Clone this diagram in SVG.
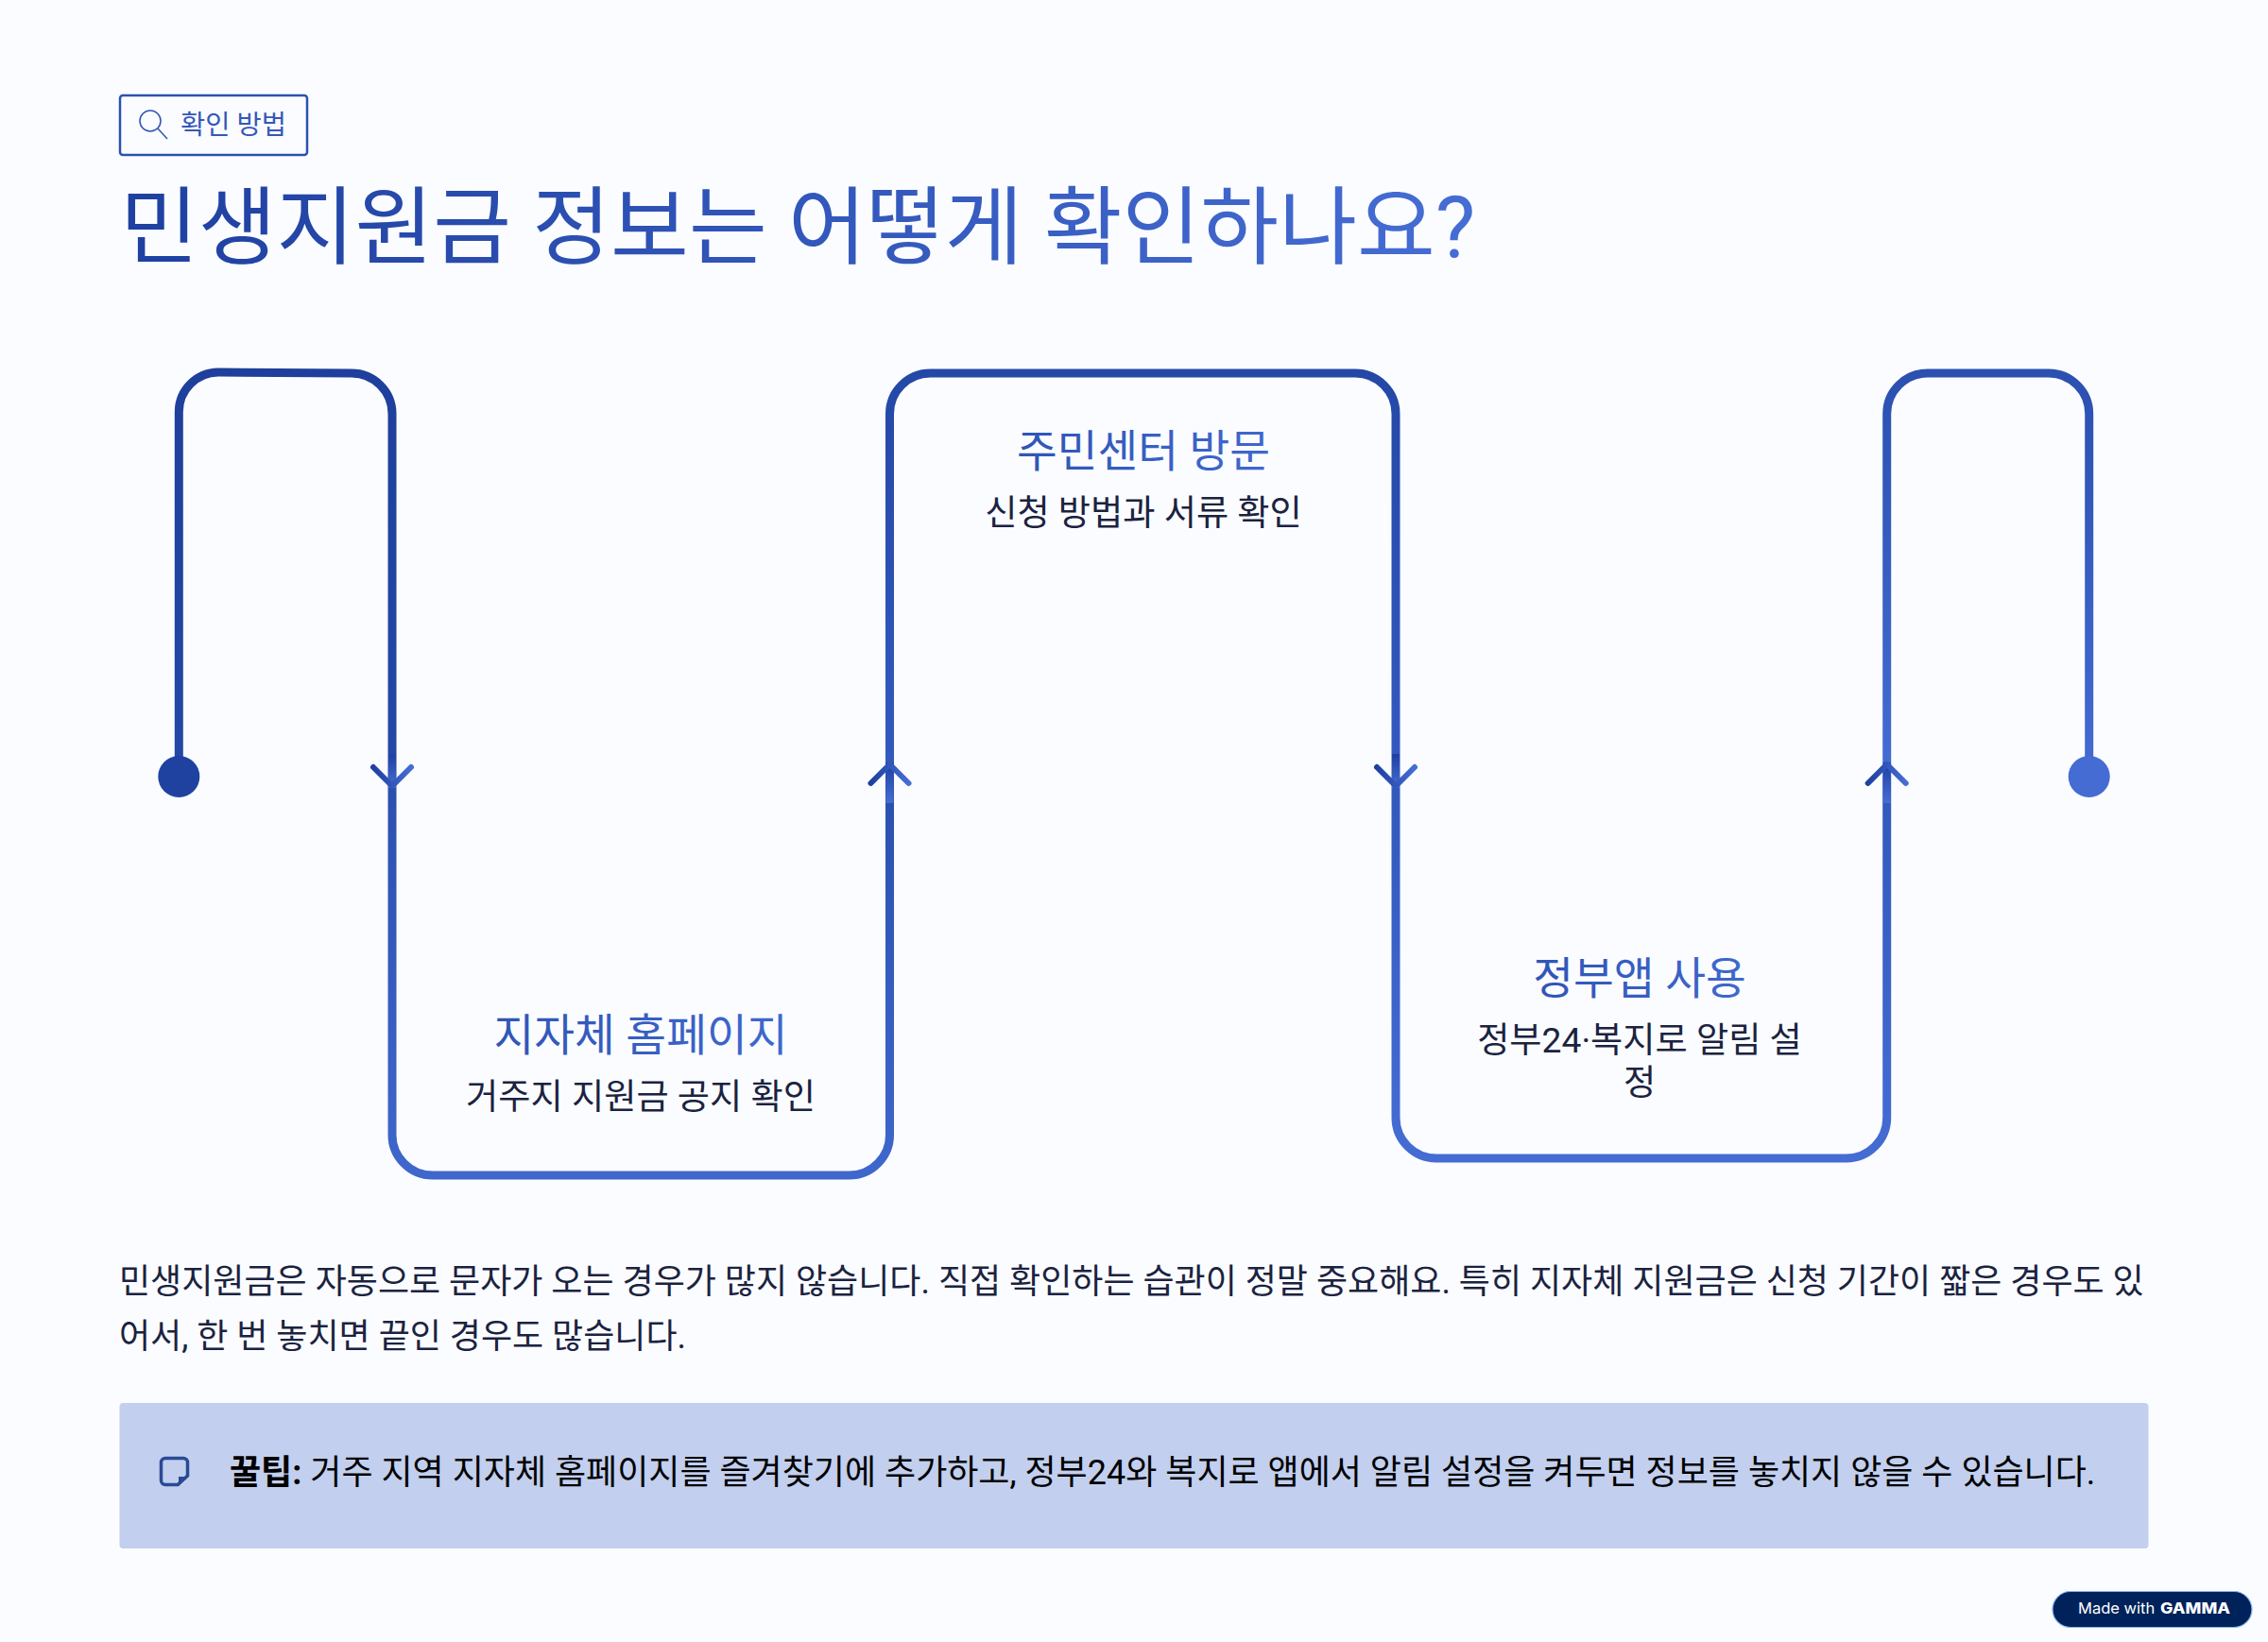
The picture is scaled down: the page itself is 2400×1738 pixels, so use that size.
<svg xmlns="http://www.w3.org/2000/svg" width="2400" height="1738" viewBox="0 0 2400 1738">
<defs>
<linearGradient id="gTitle" gradientUnits="userSpaceOnUse" x1="127" y1="0" x2="1560" y2="0"><stop offset="0" stop-color="#1e40a0"/><stop offset="1" stop-color="#466dd4"/></linearGradient>
<linearGradient id="gS1" gradientUnits="userSpaceOnUse" x1="0" y1="394" x2="0" y2="822"><stop offset="0" stop-color="#1e409c"/><stop offset="1" stop-color="#2548a6"/></linearGradient>
<linearGradient id="gS2" gradientUnits="userSpaceOnUse" x1="0" y1="822" x2="0" y2="1245"><stop offset="0" stop-color="#2a4fae"/><stop offset="1" stop-color="#3f67cc"/></linearGradient>
<linearGradient id="gS3" gradientUnits="userSpaceOnUse" x1="0" y1="395" x2="0" y2="822"><stop offset="0" stop-color="#2448a6"/><stop offset="1" stop-color="#335ac0"/></linearGradient>
<linearGradient id="gS4" gradientUnits="userSpaceOnUse" x1="0" y1="822" x2="0" y2="1226"><stop offset="0" stop-color="#3159bc"/><stop offset="1" stop-color="#446cd2"/></linearGradient>
<linearGradient id="gS5" gradientUnits="userSpaceOnUse" x1="0" y1="395" x2="0" y2="822"><stop offset="0" stop-color="#2b50b0"/><stop offset="1" stop-color="#446cd2"/></linearGradient>
<linearGradient id="gH" x1="0" y1="0" x2="1" y2="0"><stop offset="0" stop-color="#1e40a0"/><stop offset="1" stop-color="#466dd4"/></linearGradient>
<linearGradient id="gV" x1="0" y1="0" x2="0" y2="1"><stop offset="0" stop-color="#1e40a0"/><stop offset="1" stop-color="#466dd4"/></linearGradient>
<linearGradient id="gL2" gradientUnits="userSpaceOnUse" x1="520" y1="0" x2="835" y2="0"><stop offset="0" stop-color="#2f55b6"/><stop offset="1" stop-color="#3f68ce"/></linearGradient>
<linearGradient id="gL3" gradientUnits="userSpaceOnUse" x1="1075" y1="0" x2="1345" y2="0"><stop offset="0" stop-color="#2f55b6"/><stop offset="1" stop-color="#3f68ce"/></linearGradient>
<linearGradient id="gL4" gradientUnits="userSpaceOnUse" x1="1620" y1="0" x2="1850" y2="0"><stop offset="0" stop-color="#2f55b6"/><stop offset="1" stop-color="#3f68ce"/></linearGradient>
<g id="arrowDown"><rect x="-4" y="-36" width="8" height="36" fill="url(#gV)"/><path d="M-20,-22 L0,-2 L20,-22" fill="none" stroke="url(#gH)" stroke-width="6" stroke-linecap="round" stroke-linejoin="round"/></g>
<g id="arrowUp"><rect x="-4" y="0" width="8" height="43" fill="url(#gV)"/><path d="M-20,22 L0,2 L20,22" fill="none" stroke="url(#gH)" stroke-width="6" stroke-linecap="round" stroke-linejoin="round"/></g>
</defs>
<style>
.k{font-family:"Roboto","Noto Sans CJK KR",sans-serif}
.path{fill:none;stroke-width:9}
.label{font-size:46.5px;text-anchor:middle}
.sub{font-size:37.2px;text-anchor:middle;fill:#1a2340}
.body{font-size:36px;fill:#1a2340}
.tiptext{font-size:36px;fill:#000}
</style>
<rect width="2400" height="1738" fill="#fbfcff"/>
<g id="badge">
<rect x="127" y="101" width="198" height="63" rx="3" fill="none" stroke="#2b52b0" stroke-width="2.5"/>
<circle cx="159" cy="128" r="11" fill="none" stroke="#3558b8" stroke-width="1.6"/>
<line x1="167" y1="136" x2="177" y2="147" stroke="#3558b8" stroke-width="1.6"/>
<text class="k" x="191" y="142" font-size="28.5" fill="#3558b8">확인 방법</text>
</g>
<text id="title" class="k" x="127" y="272" font-size="90" fill="url(#gTitle)">민생지원금 정보는 어떻게 확인하나요?</text>
<g id="connectors">
<path class="path" stroke="url(#gS1)" d="M189.3,822 V436 A42,42 0 0 1 231,394 L372,395 A43,43 0 0 1 415,438 V822"/>
<path class="path" stroke="url(#gS2)" d="M415,822 V1200 A43,43 0 0 0 458,1244 H898.5 A43,43 0 0 0 941.5,1200 V822"/>
<path class="path" stroke="url(#gS3)" d="M941.5,822 V438 A43,43 0 0 1 984.5,395 H1434 A43,43 0 0 1 1477,438 V822"/>
<path class="path" stroke="url(#gS4)" d="M1477,822 V1183 A43,43 0 0 0 1520,1226 H1953.7 A43,43 0 0 0 1996.7,1183 V822"/>
<path class="path" stroke="url(#gS5)" d="M1996.7,822 V438 A43,43 0 0 1 2039.7,395 H2168 A43,43 0 0 1 2210.7,438 V822"/>
<use href="#arrowDown" x="415" y="834"/>
<use href="#arrowUp" x="941.5" y="807"/>
<use href="#arrowDown" x="1477" y="834"/>
<use href="#arrowUp" x="1996.7" y="807"/>
</g>
<circle id="start" cx="189.3" cy="822" r="22" fill="#1f42a0"/>
<circle id="end" cx="2210.7" cy="822" r="22" fill="#446cd2"/>
<g id="step1">
<text class="k label" x="678" y="1112" fill="url(#gL2)">지자체 홈페이지</text>
<text class="k sub" x="678" y="1174">거주지 지원금 공지 확인</text>
</g>
<g id="step2">
<text class="k label" x="1210" y="494" fill="url(#gL3)">주민센터 방문</text>
<text class="k sub" x="1210" y="556">신청 방법과 서류 확인</text>
</g>
<g id="step3">
<text class="k label" x="1735" y="1052" fill="url(#gL4)">정부앱 사용</text>
<text class="k sub" x="1735" y="1114">정부24·복지로 알림 설</text>
<text class="k sub" x="1735" y="1159">정</text>
</g>
<g id="para">
<text class="k body" x="126" y="1369">민생지원금은 자동으로 문자가 오는 경우가 많지 않습니다. 직접 확인하는 습관이 정말 중요해요. 특히 지자체 지원금은 신청 기간이 짧은 경우도 있</text>
<text class="k body" x="126" y="1427">어서, 한 번 놓치면 끝인 경우도 많습니다.</text>
</g>
<g id="tip">
<rect x="126.5" y="1485" width="2147" height="154" rx="4" fill="#c2cfee"/>
<path d="M175,1543.5 H194 A4.5,4.5 0 0 1 198.5,1548 V1562 L188,1571.5 H175 A4.5,4.5 0 0 1 170.5,1567 V1548 A4.5,4.5 0 0 1 175,1543.5 Z" fill="none" stroke="#2a4a95" stroke-width="3.5"/>
<path d="M189,1563 H199 L189,1573 Z" fill="#2a4a95"/>
<text class="k tiptext" x="243" y="1571"><tspan font-weight="700">꿀팁:</tspan> 거주 지역 지자체 홈페이지를 즐겨찾기에 추가하고, 정부24와 복지로 앱에서 알림 설정을 켜두면 정보를 놓치지 않을 수 있습니다.</text>
</g>
<g id="gamma">
<rect x="2172" y="1684.5" width="211" height="38" rx="19" fill="#00225a" stroke="#8ab2e8" stroke-width="1.2"/>
<text x="2199" y="1708" font-family="Inter,sans-serif" font-size="16.5" fill="#fff">Made with</text>
<text x="2286" y="1708" font-family="Inter,sans-serif" font-size="16" font-weight="800" fill="#fff" textLength="74" lengthAdjust="spacingAndGlyphs">GAMMA</text>
</g>
</svg>
